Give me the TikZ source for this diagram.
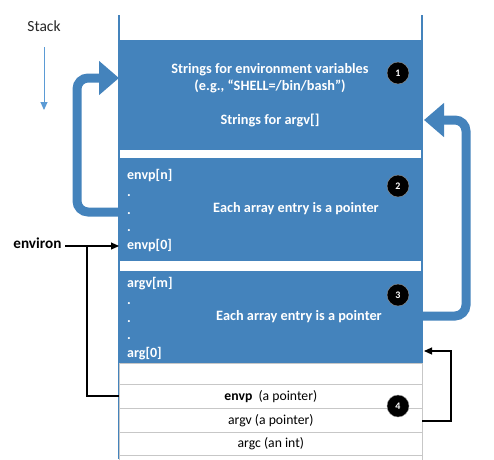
\documentclass[tikz,border=0pt]{standalone}
\usepackage{fontspec}
\setmainfont{Carlito}
\usetikzlibrary{arrows.meta}

\definecolor{stackblue}{RGB}{68,131,188}
\definecolor{stacklight}{RGB}{91,155,213}

\begin{document}
\begin{tikzpicture}[x=1pt,y=-1pt,
  every node/.style={font=\fontsize{13.7}{16}\selectfont},
  block/.style={fill=stackblue,draw=stackblue,line width=0.6pt,
    minimum width=303pt,inner sep=0pt,anchor=north west},
  slot/.style={fill=white,draw=black!22,line width=0.7pt,
    minimum width=303pt,inner sep=0pt,anchor=north west},
  blocktext/.style={text=white,font=\bfseries\fontsize{14.3}{16.5}\selectfont},
  listtext/.style={blocktext,align=left,inner sep=0pt,anchor=north west,
    font=\bfseries\fontsize{14}{17.4}\selectfont},
  marker/.style={circle,fill=black,draw=black!40,line width=0.4pt,
    minimum size=22pt,inner sep=0pt,text=white,
    font=\bfseries\fontsize{10}{10}\selectfont},
  jump/.style={stackblue,line width=9pt,rounded corners=11pt,
    -{Triangle[length=20pt,width=33pt]}},
  link/.style={black,line width=1.1pt,-{Triangle[length=8pt,width=7pt]}},
  wall/.style={stackblue,line width=1.6pt}]
  % Pixel grid of the reference: x to the right, y downward.
  \useasboundingbox (0,0) rectangle (494,459);

  % Column walls of the stack.
  \draw[wall] (119,15) -- (119,459);
  \draw[wall] (422,15) -- (422,459);

  % Blue regions, top to bottom.
  \node[block,minimum height=109pt] (blk1) at (119,40) {};
  \node[block,minimum height=102pt] (blk2) at (119,158) {};
  \node[block,minimum height=92pt] (blk3) at (119,271) {};

  % White slots below the arrays.
  \node[slot,minimum height=21pt] (slot0) at (119,363) {};
  \node[slot,minimum height=24pt] (slotenvp) at (119,384) {};
  \node[slot,minimum height=24pt] (slotargv) at (119,408) {};
  \node[slot,minimum height=23pt] (slotargc) at (119,432) {};
  \node[slot,minimum height=10pt] (slotrest) at (119,455) {};

  % Region 1
  \node[blocktext,align=center] (strenv) at (270,78)
    {Strings for environment variables\\(e.g., “SHELL=/bin/bash”)};
  \node[blocktext] (strargv) at (270,120) {Strings for argv[]};

  % Region 2 and 3
  \node[listtext] (envlist) at (127,169) {envp[n]\\.\\.\\.\\envp[0]};
  \node[blocktext] (envnote) at (296,209) {Each array entry is a pointer};
  \node[listtext] (arglist) at (127,277) {argv[m]\\.\\.\\.\\arg[0]};
  \node[blocktext] (argnote) at (299,317) {Each array entry is a pointer};

  % Region 4
  \node (envptr) at (slotenvp) {\textbf{envp}\ \ (a pointer)};
  \node (argvptr) at (slotargv) {argv (a pointer)};
  \node (argcint) at (slotargc) {argc (an int)};

  % Numbered markers
  \foreach \ny/\num in {73/1,186/2,295/3,406/4}
    \node[marker] (m\num) at (398,\ny) {\num};

  % Stack direction
  \node[font=\fontsize{15.5}{18}\selectfont,text=black!85] (stacklbl) at (44,26) {Stack};
  \coordinate (stacktop) at (44,47);
  \coordinate (stackbot) at (44,110);
  \draw[stacklight,line width=1pt,-{Triangle[length=8pt,width=7pt]}]
    (stacktop) -- (stackbot);

  % Thick pointers back into region 1
  \coordinate (envout) at (119,212);
  \coordinate (envin) at (119,78);
  \draw[jump] (envout) -- (77,212) -- (77,78) -- (envin);
  \coordinate (argout) at (422,316);
  \coordinate (argin) at (424,120);
  \draw[jump] (argout) -- (466,316) -- (466,120) -- (argin);

  % environ and the saved pointers
  \node[font=\bfseries\fontsize{15.2}{18}\selectfont,anchor=east] (environ) at (65,243) {environ};
  \coordinate (envzero) at (119,246);
  \coordinate (envslot) at (119,396);
  \draw[link] (environ.east |- envzero) -- (envzero);
  \draw[black,line width=1.1pt] (87,246) -- (87,396) -- (envslot);
  \coordinate (argvslot) at (422,421);
  \coordinate (argzero) at (424,351);
  \draw[link] (argvslot) -- (451,421) -- (451,351) -- (argzero);
\end{tikzpicture}
\end{document}
